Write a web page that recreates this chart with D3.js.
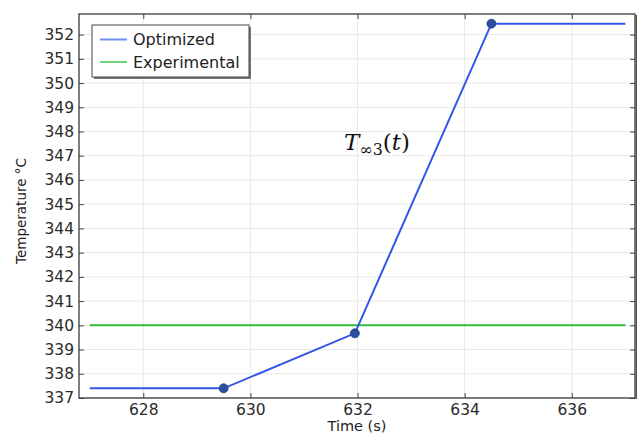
<!DOCTYPE html>
<html>
<head>
<meta charset="utf-8">
<script src="https://cdn.jsdelivr.net/npm/d3@7"></script>
<style>
  html, body { margin: 0; padding: 0; background: #fff; }
  svg { display: block; }
  text { font-family: "DejaVu Sans", sans-serif; }
</style>
</head>
<body>
<svg id="chart" width="637" height="436"></svg>
<script>
// Time axis (s) and temperature series (°C)
const optimizedTime = [627, 629.5, 631.95, 634.5, 637];
const optimizedTemp = [337.4, 337.4, 339.67, 352.45, 352.45];
const markerTime = [629.5, 631.95, 634.5];
const markerTemp = [337.4, 339.67, 352.45];
const experimentalTime = [627, 637];
const experimentalTemp = [340, 340];
const xTicks = [628, 630, 632, 634, 636];
const yTicks = [337, 338, 339, 340, 341, 342, 343, 344, 345, 346, 347, 348, 349, 350, 351, 352];
const seriesNames = ["Optimized", "Experimental"];

const svg = d3.select("#chart");
const m = { left: 79, top: 14, right: 635, bottom: 398 };

const x = d3.scaleLinear().domain([626.8, 637.18]).range([m.left, m.right]);
const y = d3.scaleLinear().domain([337, 352.85]).range([m.bottom, m.top]);

// grid
const grid = svg.append("g");
grid.selectAll(".gx").data(xTicks).join("line")
  .attr("x1", d => x(d)).attr("x2", d => x(d))
  .attr("y1", m.top).attr("y2", m.bottom)
  .attr("stroke", "#e8e8e8").attr("stroke-width", 1);
grid.selectAll(".gy").data(yTicks).join("line")
  .attr("x1", m.left).attr("x2", m.right)
  .attr("y1", d => y(d)).attr("y2", d => y(d))
  .attr("stroke", "#e8e8e8").attr("stroke-width", 1);

// axes with inward ticks
const tickColor = "#444";
const axB = svg.append("g").attr("transform", `translate(0,${m.bottom})`)
  .call(d3.axisBottom(x).tickValues(xTicks).tickSize(-5).tickPadding(6).tickFormat(d3.format("d")));
const axT = svg.append("g").attr("transform", `translate(0,${m.top})`)
  .call(d3.axisTop(x).tickValues(xTicks).tickSize(-5).tickFormat(""));
const axL = svg.append("g").attr("transform", `translate(${m.left},0)`)
  .call(d3.axisLeft(y).tickValues(yTicks).tickSize(-5).tickPadding(5).tickFormat(d3.format("d")));
const axR = svg.append("g").attr("transform", `translate(${m.right},0)`)
  .call(d3.axisRight(y).tickValues(yTicks).tickSize(-5).tickFormat(""));
[axB, axT, axL, axR].forEach(a => {
  a.select(".domain").remove();
  a.selectAll(".tick line").attr("stroke", tickColor);
  a.selectAll(".tick text").attr("fill", "#2b2b2b").style("font-size", "15.5px");
});

// frame
svg.append("rect")
  .attr("x", m.left).attr("y", m.top)
  .attr("width", m.right - m.left).attr("height", m.bottom - m.top)
  .attr("fill", "none").attr("stroke", "#3a3a3a").attr("stroke-width", 1.3);
svg.append("line")
  .attr("x1", m.right + 1.5).attr("x2", m.right + 1.5)
  .attr("y1", m.top + 1).attr("y2", m.bottom + 1)
  .attr("stroke", "#555").attr("stroke-width", 2);

// series
const line = d3.line().x(d => x(d[0])).y(d => y(d[1]));
svg.append("path")
  .datum(experimentalTime.map((t, i) => [t, experimentalTemp[i]]))
  .attr("d", line).attr("fill", "none")
  .attr("stroke", "#33bb3a").attr("stroke-width", 2);
svg.append("path")
  .datum(optimizedTime.map((t, i) => [t, optimizedTemp[i]]))
  .attr("d", line).attr("fill", "none")
  .attr("stroke", "#3355e8").attr("stroke-width", 2);
svg.selectAll(".mk").data(markerTime.map((t, i) => [t, markerTemp[i]])).join("circle")
  .attr("cx", d => x(d[0])).attr("cy", d => y(d[1])).attr("r", 4.5)
  .attr("fill", "#2a4f9e").attr("stroke", "#23407f").attr("stroke-width", 0.8);

// annotation
const ann = svg.append("text")
  .attr("x", 344).attr("y", 150)
  .style("font-family", "'DejaVu Serif', 'Liberation Serif', serif")
  .style("font-size", "23px").attr("fill", "#111");
ann.append("tspan").style("font-style", "italic").text("T");
ann.append("tspan").attr("dy", 5).style("font-size", "16px").text("∞3");
ann.append("tspan").attr("dy", -5).text("(");
ann.append("tspan").style("font-style", "italic").text("t");
ann.append("tspan").text(")");

// legend
const lg = svg.append("g");
lg.append("rect").attr("x", 94).attr("y", 27).attr("width", 157).attr("height", 52).attr("fill", "#777");
lg.append("rect").attr("x", 92).attr("y", 25).attr("width", 157).attr("height", 52)
  .attr("fill", "#fff").attr("stroke", "#444").attr("stroke-width", 1);
const legendColors = ["#6f8ff0", "#6fd07a"];
seriesNames.forEach((name, i) => {
  const yy = 39.5 + i * 22.5;
  lg.append("line").attr("x1", 100).attr("x2", 127).attr("y1", yy).attr("y2", yy)
    .attr("stroke", legendColors[i]).attr("stroke-width", 2);
  lg.append("text").attr("x", 133).attr("y", yy + 5.5)
    .style("font-size", "16px").attr("fill", "#222").text(name);
});

// axis titles
svg.append("text").attr("x", (m.left + m.right) / 2).attr("y", 431)
  .attr("text-anchor", "middle").style("font-size", "14.5px").attr("fill", "#222").text("Time (s)");
svg.append("text").attr("transform", "translate(26,211) rotate(-90)")
  .attr("text-anchor", "middle").style("font-size", "13.5px").attr("fill", "#222").text("Temperature °C");
</script>
</body>
</html>
